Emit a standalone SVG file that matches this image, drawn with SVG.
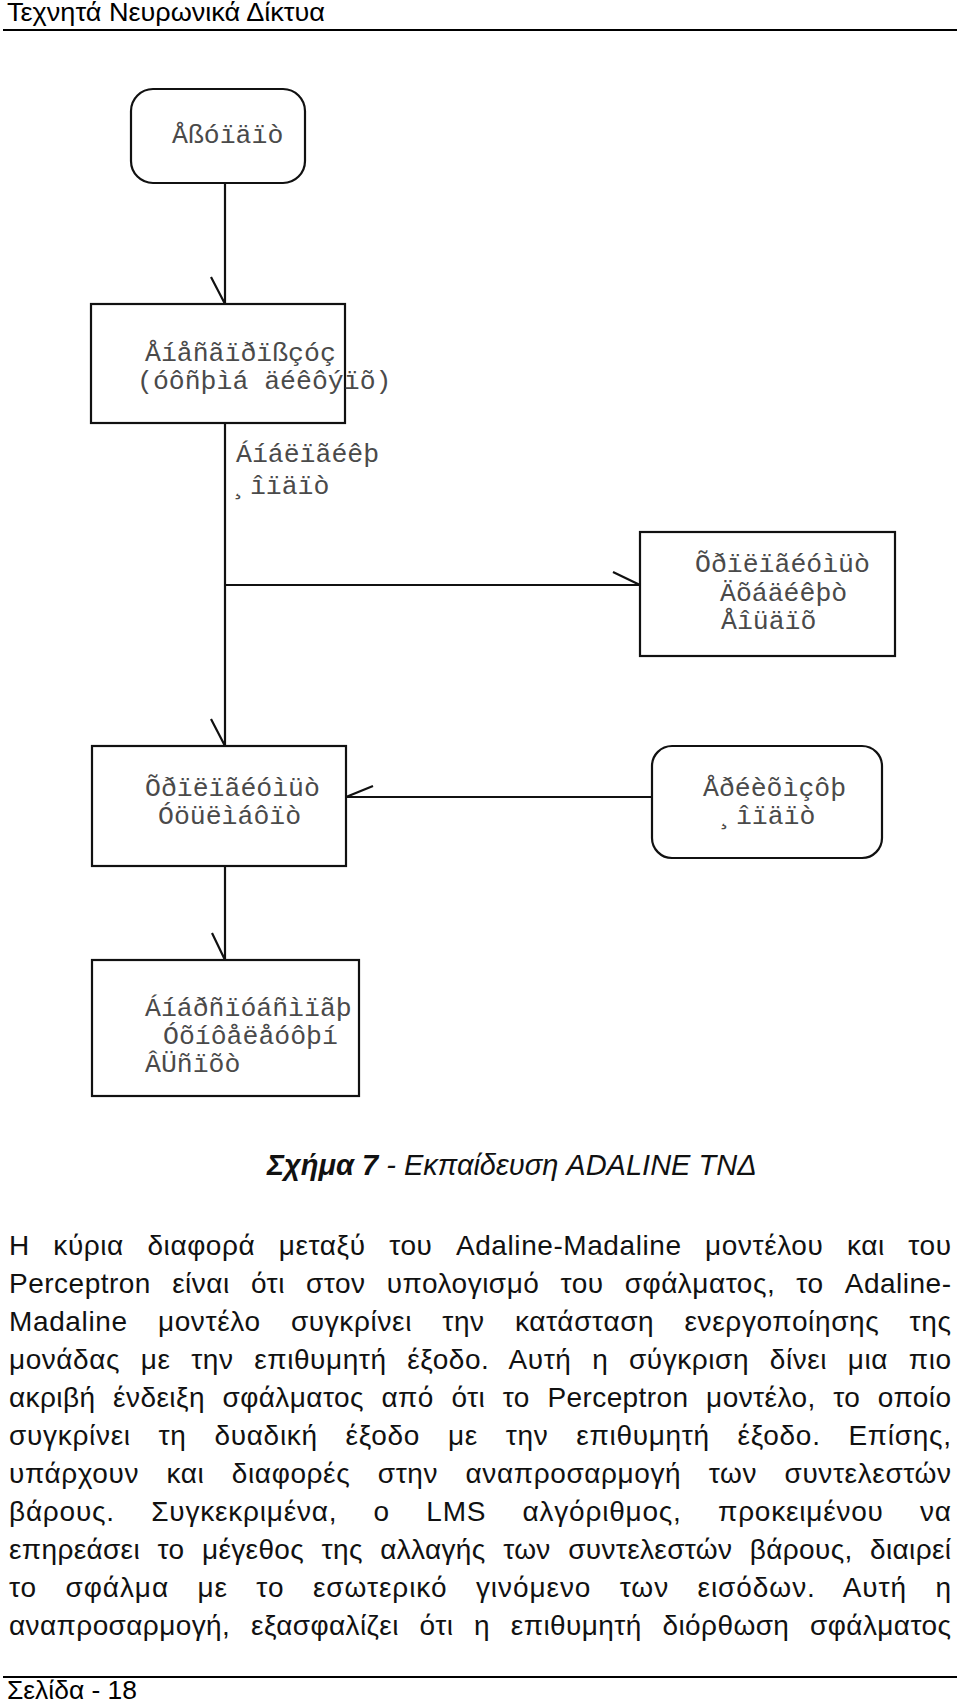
<svg xmlns="http://www.w3.org/2000/svg" width="960" height="1706" viewBox="0 0 960 1706">
<defs>
<style>
.bg{fill:#ffffff}
.box{fill:#ffffff;stroke:#111;stroke-width:2.2}
.lbl{font-family:"Liberation Mono","DejaVu Sans Mono",monospace;font-size:26.5px;fill:#4a4a4a}
.ln{fill:none;stroke:#111;stroke-width:2.2}
.hdr{font-family:"Liberation Sans",Arial,sans-serif;font-size:25px;fill:#000}
.par{font-family:"Liberation Sans",Arial,sans-serif;font-size:28px;fill:#111}
.cap{font-family:"Liberation Sans",Arial,sans-serif;font-size:29px;fill:#111;font-style:italic}
.rule{stroke:#000;stroke-width:2}
</style>
</defs>
<rect class="bg" x="0" y="0" width="960" height="1706"/>
<g id="header">
<text class="hdr" x="7" y="21" textLength="318" lengthAdjust="spacingAndGlyphs">Τεχνητά Νευρωνικά Δίκτυα</text>
<line class="rule" x1="3" y1="30" x2="957" y2="30"/>
</g>
<g id="connectors">
<path class="ln" d="M225 183 V304 M211 277 L225 304"/>
<path class="ln" d="M225 423 V746 M211 719 L225 746"/>
<path class="ln" d="M225 585 H640 M613 572 L640 585"/>
<path class="ln" d="M652 797 H346 M373 786 L346 797"/>
<path class="ln" d="M225 866 V960 M212 933 L225 960"/>
<text class="lbl" x="236" y="462">Áíáëïãéêþ</text>
<text class="lbl" x="234" y="494">¸îïäïò</text>
</g>
<g id="node-start">
<rect class="box" x="131" y="89" width="174" height="94" rx="22"/>
<text class="lbl" x="172" y="143">Åßóïäïò</text>
</g>
<g id="node-activation">
<rect class="box" x="91" y="304" width="254" height="119"/>
<text class="lbl" x="145" y="361">Åíåñãïðïßçóç</text>
<text class="lbl" x="137" y="389">(óôñþìá äéêôýïõ)</text>
</g>
<g id="node-binary">
<rect class="box" x="640" y="532" width="255" height="124"/>
<text class="lbl" x="695" y="572">Õðïëïãéóìüò</text>
<text class="lbl" x="720" y="601">Äõáäéêþò</text>
<text class="lbl" x="721" y="629">Åîüäïõ</text>
</g>
<g id="node-error">
<rect class="box" x="92" y="746" width="254" height="120"/>
<text class="lbl" x="145" y="796">Õðïëïãéóìüò</text>
<text class="lbl" x="158" y="824">Óöüëìáôïò</text>
</g>
<g id="node-desired">
<rect class="box" x="652" y="746" width="230" height="112" rx="20"/>
<text class="lbl" x="703" y="796">Åðéèõìçôþ</text>
<text class="lbl" x="720" y="824">¸îïäïò</text>
</g>
<g id="node-update">
<rect class="box" x="92" y="960" width="267" height="136"/>
<text class="lbl" x="145" y="1016">Áíáðñïóáñìïãþ</text>
<text class="lbl" x="163" y="1044">Óõíôåëåóôþí</text>
<text class="lbl" x="145" y="1072">ÂÜñïõò</text>
</g>
<g id="caption">
<text class="cap" x="267" y="1175"><tspan font-weight="bold">Σχήμα 7</tspan> - Εκπαίδευση ADALINE ΤΝΔ</text>
</g>
<g id="paragraph">
<text class="par" x="9" y="1255" word-spacing="15.2" textLength="942" lengthAdjust="spacing">Η κύρια διαφορά μεταξύ του Adaline-Madaline μοντέλου και του</text>
<text class="par" x="9" y="1293" word-spacing="12.9" textLength="942" lengthAdjust="spacing">Perceptron είναι ότι στον υπολογισμό του σφάλματος, το Adaline-</text>
<text class="par" x="9" y="1331" word-spacing="21.8" textLength="942" lengthAdjust="spacing">Madaline μοντέλο συγκρίνει την κατάσταση ενεργοποίησης της</text>
<text class="par" x="9" y="1369" word-spacing="12.4" textLength="942" lengthAdjust="spacing">μονάδας με την επιθυμητή έξοδο. Αυτή η σύγκριση δίνει μια πιο</text>
<text class="par" x="9" y="1407" word-spacing="9.4" textLength="942" lengthAdjust="spacing">ακριβή ένδειξη σφάλματος από ότι το Perceptron μοντέλο, το οποίο</text>
<text class="par" x="9" y="1445" word-spacing="19.3" textLength="942" lengthAdjust="spacing">συγκρίνει τη δυαδική έξοδο με την επιθυμητή έξοδο. Επίσης,</text>
<text class="par" x="9" y="1483" word-spacing="19.1" textLength="942" lengthAdjust="spacing">υπάρχουν και διαφορές στην αναπροσαρμογή των συντελεστών</text>
<text class="par" x="9" y="1521" word-spacing="27.8" textLength="942" lengthAdjust="spacing">βάρους. Συγκεκριμένα, ο LMS αλγόριθμος, προκειμένου να</text>
<text class="par" x="9" y="1559" word-spacing="9.4" textLength="942" lengthAdjust="spacing">επηρεάσει το μέγεθος της αλλαγής των συντελεστών βάρους, διαιρεί</text>
<text class="par" x="9" y="1597" word-spacing="19.7" textLength="942" lengthAdjust="spacing">το σφάλμα με το εσωτερικό γινόμενο των εισόδων. Αυτή η</text>
<text class="par" x="9" y="1635" word-spacing="12.6" textLength="942" lengthAdjust="spacing">αναπροσαρμογή, εξασφαλίζει ότι η επιθυμητή διόρθωση σφάλματος</text>
</g>
<g id="footer">
<line class="rule" x1="3" y1="1677" x2="957" y2="1677"/>
<text class="hdr" x="7" y="1699" textLength="130" lengthAdjust="spacingAndGlyphs">Σελίδα - 18</text>
</g>
</svg>
